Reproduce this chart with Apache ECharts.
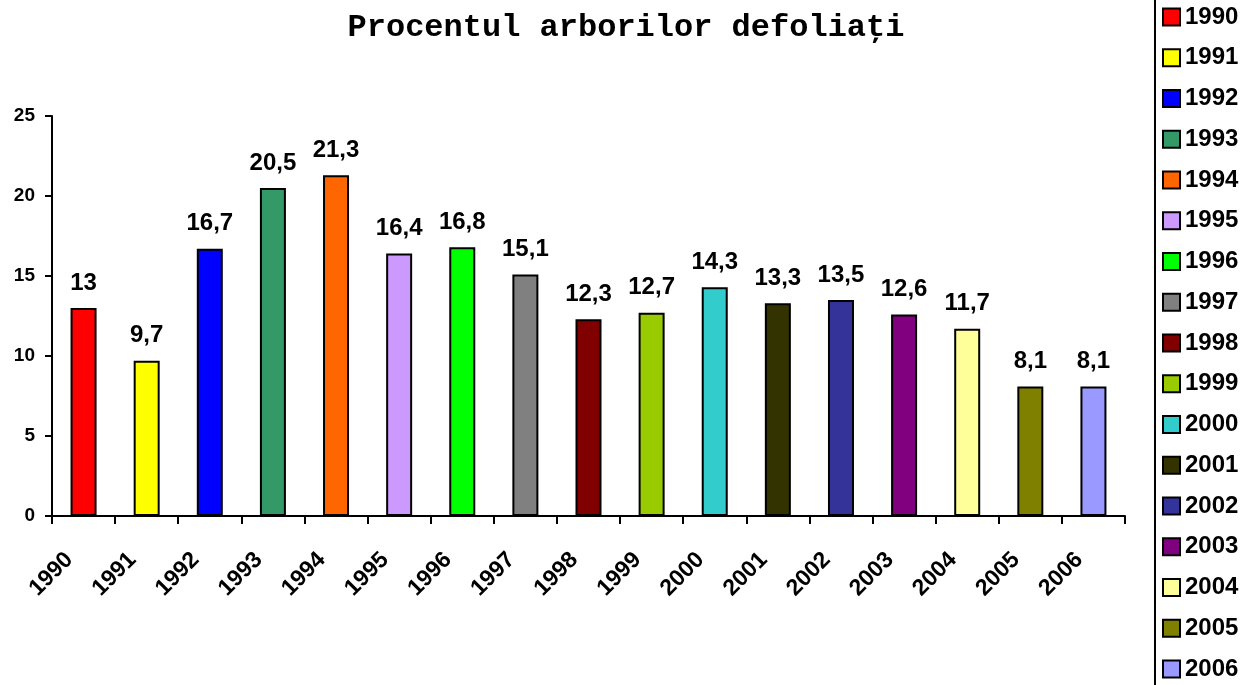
<!DOCTYPE html>
<html>
<head>
<meta charset="utf-8">
<script src="https://cdn.jsdelivr.net/npm/echarts@6/dist/echarts.min.js"></script>
<style>html,body{margin:0;padding:0;background:#fff}#c{width:1254px;height:685px}</style>
</head>
<body>
<div id="c"></div>
<script>
const categories = ['1990','1991','1992','1993','1994','1995','1996','1997','1998','1999','2000','2001','2002','2003','2004','2005','2006'];
const values = [13, 9.7, 16.7, 20.5, 21.3, 16.4, 16.8, 15.1, 12.3, 12.7, 14.3, 13.3, 13.5, 12.6, 11.7, 8.1, 8.1];
const colors = ['#FF0000','#FFFF00','#0000FF','#339966','#FF6600','#CC99FF','#00FF00','#808080','#800000','#99CC00','#33CCCC','#333300','#333399','#800080','#FFFF99','#808000','#9999FF'];
const yTicks = [0, 5, 10, 15, 20, 25];

const FONT = 'Liberation Sans, Arial, sans-serif';
const chart = echarts.init(document.getElementById('c'));
const series = categories.map((name, i) => ({
  name: name,
  type: 'bar',
  stack: 'all',
  barWidth: 26,
  data: categories.map((_, j) => j === i ? values[i] : '-'),
  itemStyle: { color: colors[i], borderColor: '#000', borderWidth: 2 },
  label: {
    show: true, position: 'top', distance: 13,
    fontFamily: FONT, fontWeight: 'bold', fontSize: 24, color: '#000',
    formatter: p => String(p.value).replace('.', ',')
  }
}));

chart.setOption({
  animation: false,
  title: {
    text: 'Procentul arborilor defoliaţi',
    left: 621, top: 7, textAlign: 'center',
    textStyle: { fontFamily: 'Liberation Mono, Courier New, monospace', fontWeight: 'bold', fontSize: 32, color: '#000' }
  },
  legend: {
    orient: 'vertical', left: 1162, top: 5, padding: 0,
    height: 680,
    itemWidth: 17, itemHeight: 17, itemGap: 16.75,
    icon: 'rect',
    itemStyle: { borderColor: '#000', borderWidth: 2 },
    textStyle: { fontFamily: FONT, fontWeight: 'bold', fontSize: 24, color: '#000' },
    data: categories
  },
  graphic: [{ type: 'line', shape: { x1: 1155, y1: 0, x2: 1155, y2: 685 }, style: { stroke: '#000', lineWidth: 2 } }],
  grid: { left: 52, right: 129, top: 116, bottom: 169 },
  xAxis: {
    type: 'category', data: categories,
    axisLine: { lineStyle: { color: '#000', width: 2 } },
    axisTick: { show: true, length: 8, lineStyle: { color: '#000', width: 2 } },
    axisLabel: { rotate: 45, interval: 0, margin: 26, padding: [0, 20, 0, 0], fontFamily: FONT, fontWeight: 'bold', fontSize: 23, color: '#000' }
  },
  yAxis: {
    type: 'value', min: yTicks[0], max: yTicks[yTicks.length - 1], interval: 5,
    axisLine: { show: true, lineStyle: { color: '#000', width: 2 } },
    axisTick: { show: true, length: 7, lineStyle: { color: '#000', width: 2 } },
    splitLine: { show: false },
    axisLabel: { margin: 17, fontFamily: FONT, fontWeight: 'bold', fontSize: 19, color: '#000' }
  },
  series: series
});
</script>
</body>
</html>
